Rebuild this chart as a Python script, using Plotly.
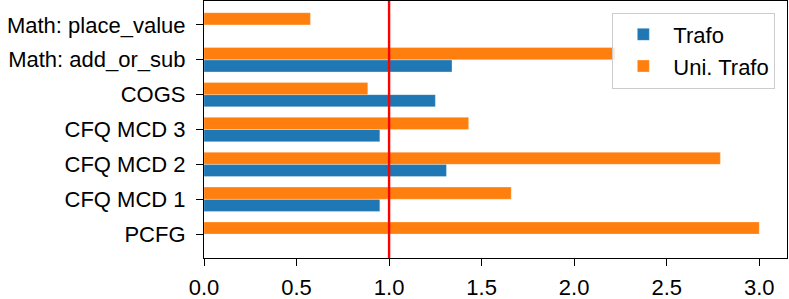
import plotly.graph_objects as go

categories = ["PCFG", "CFQ MCD 1", "CFQ MCD 2", "CFQ MCD 3", "COGS",
              "Math: add_or_sub", "Math: place_value"]
trafo = [None, 0.95, 1.31, 0.95, 1.25, 1.34, None]
uni_trafo = [3.0, 1.66, 2.79, 1.43, 0.885, 2.22, 0.575]
threshold = 1.0
x_ticks = [0.0, 0.5, 1.0, 1.5, 2.0, 2.5, 3.0]
x_tick_labels = ["0.0", "0.5", "1.0", "1.5", "2.0", "2.5", "3.0"]

bar_w = 0.35
font_family = "Liberation Sans, Arial, Helvetica, sans-serif"

fig = go.Figure()
fig.add_trace(go.Bar(
    y=categories, x=trafo, orientation="h", name="Trafo",
    width=bar_w, offset=-bar_w,
    marker=dict(color="#1f77b4", line=dict(color="rgba(255,255,255,0.6)", width=0.5)),
))
fig.add_trace(go.Bar(
    y=categories, x=uni_trafo, orientation="h", name="Uni. Trafo",
    width=bar_w, offset=0,
    marker=dict(color="#ff7f0e", line=dict(color="rgba(255,255,255,0.6)", width=0.5)),
))
fig.add_vline(x=threshold, line_color="#ff0000", line_width=2.4, layer="above")

fig.update_layout(
    width=789, height=299,
    margin=dict(l=204, r=2, t=1, b=41, autoexpand=False),
    barmode="overlay",
    plot_bgcolor="white", paper_bgcolor="white",
    font=dict(family=font_family, size=22, color="black"),
    showlegend=True,
    legend=dict(
        x=0.98, y=0.955, xanchor="right", yanchor="top",
        bgcolor="rgba(255,255,255,0.8)", bordercolor="#cccccc", borderwidth=1,
        font=dict(size=22), tracegroupgap=2, itemwidth=50,
    ),
)
fig.update_xaxes(
    range=[0, 3.15], tickvals=x_ticks, ticktext=x_tick_labels,
    showgrid=False, zeroline=False, automargin=False,
    showline=True, linecolor="black", linewidth=1.2, mirror=True,
    ticks="outside", ticklen=7, tickwidth=1.2, tickcolor="black",
    ticklabelstandoff=2,
)
fig.update_yaxes(
    type="category", categoryorder="array", categoryarray=categories,
    range=[-0.685, 6.685], automargin=False,
    showgrid=False, zeroline=False,
    showline=True, linecolor="black", linewidth=1.2, mirror=True,
    ticks="outside", ticklen=7, tickwidth=1.2, tickcolor="black",
    ticklabelstandoff=6,
)

fig.write_html("out.html", config={"displayModeBar": False},
               post_script="document.body.style.margin='0';")
